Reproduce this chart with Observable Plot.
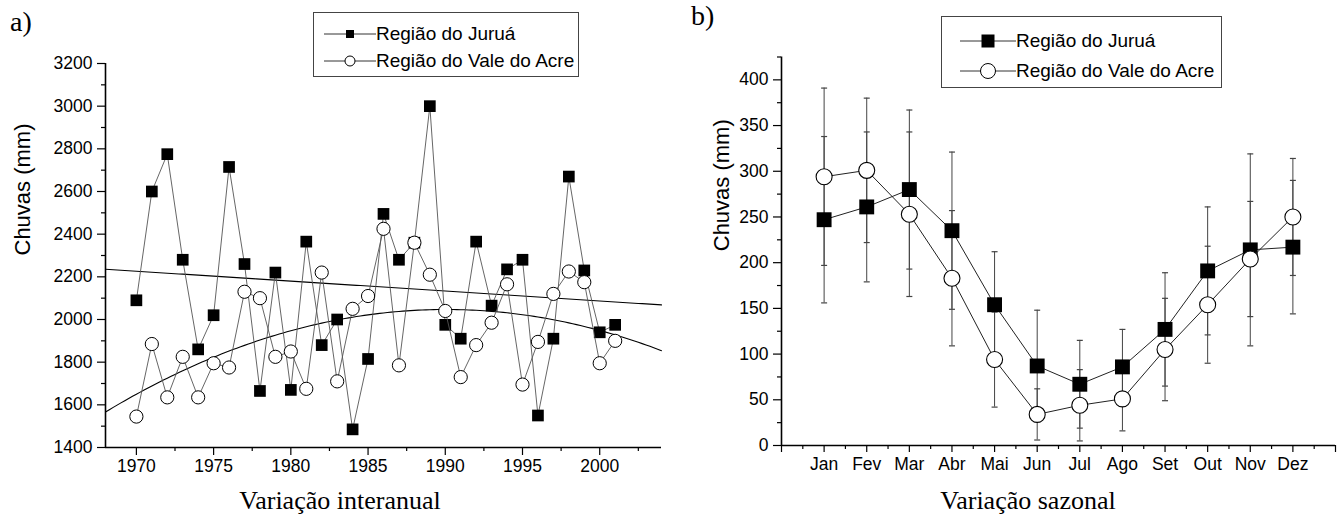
<!DOCTYPE html>
<html>
<head>
<meta charset="utf-8">
<script src="https://cdn.jsdelivr.net/npm/d3@7"></script>
<script src="https://cdn.jsdelivr.net/npm/@observablehq/plot@0.6"></script>
<style>
  html, body { margin: 0; padding: 0; background: #fff; }
  #wrap { position: relative; width: 1339px; height: 530px; overflow: hidden; font-family: "Liberation Sans", Arial, sans-serif; }
  .panel { position: absolute; top: 0; }
  .plabel { position: absolute; font-family: "Liberation Serif", "Times New Roman", serif; font-size: 28px; color: #000; }
  .xtitle { position: absolute; font-family: "Liberation Serif", "Times New Roman", serif; font-size: 26px; color: #000; text-align: center; white-space: nowrap; }
  .legend { position: absolute; border: 1px solid #444; background: #fff; box-sizing: border-box; }
  .legend .row { position: absolute; left: 0; display: flex; align-items: center; font-size: 19px; color: #000; white-space: nowrap; }
  .legend svg { display: block; }
</style>
</head>
<body>
<div id="wrap">
  <div id="pa" class="panel" style="left:0px"></div>
  <div id="pb" class="panel" style="left:670px"></div>
  <div class="plabel" style="left:10px; top:6px;">a)</div>
  <div class="plabel" style="left:691px; top:0px;">b)</div>
  <div class="xtitle" style="left:190px; width:300px; top:486px;">Variação interanual</div>
  <div class="xtitle" style="left:878px; width:300px; top:486px;">Variação sazonal</div>
  <div id="lega" class="legend" style="left:313px; top:12px; width:266px; height:65px;"></div>
  <div id="legb" class="legend" style="left:941px; top:16px; width:281px; height:72px;"></div>
</div>
<script>
// ---------- Data: panel a (annual totals, mm) ----------
const years = [1970,1971,1972,1973,1974,1975,1976,1977,1978,1979,1980,1981,1982,1983,1984,1985,
               1986,1987,1988,1989,1990,1991,1992,1993,1994,1995,1996,1997,1998,1999,2000,2001];
const juruaAnnual = [2090,2600,2775,2280,1860,2020,2715,2260,1665,2220,1670,2365,1880,2000,1485,1815,
                     2495,2280,2360,3000,1975,1910,2365,2065,2235,2280,1550,1910,2670,2230,1940,1975];
const acreAnnual  = [1545,1885,1635,1825,1635,1795,1775,2130,2100,1825,1850,1675,2220,1710,2050,2110,
                     2425,1785,2360,2210,2040,1730,1880,1985,2165,1695,1895,2120,2225,2175,1795,1900];
const yTicksA = [1400,1600,1800,2000,2200,2400,2600,2800,3000,3200];
const xTicksA = [1970,1975,1980,1985,1990,1995,2000];

// ---------- Data: panel b (monthly means ± sd, mm) ----------
const months = ["Jan","Fev","Mar","Abr","Mai","Jun","Jul","Ago","Set","Out","Nov","Dez"];
const juruaMonthly = [247,261,280,235,154,87,67,86,127,191,214,217];
const juruaSd      = [91,82,87,86,58,61,48,41,62,70,105,73];
const acreMonthly  = [294,301,253,183,94,34,44,51,105,154,204,250];
const acreSd       = [97,79,90,74,52,28,39,35,56,64,63,64];
const yTicksB = [0,50,100,150,200,250,300,350,400];

const LINE_A = "#555";
const FONT = "'Liberation Sans', Arial, sans-serif";
const noLabel = () => "";

// ---------- least-squares polynomial fit (from the data) ----------
function polyfit(xs, ys, deg) {
  const x0 = d3.mean(xs);
  const n = deg + 1;
  const A = Array.from({length: n}, () => new Array(n).fill(0));
  const b = new Array(n).fill(0);
  xs.forEach((x, i) => {
    const t = x - x0;
    for (let r = 0; r < n; r++) {
      b[r] += ys[i] * Math.pow(t, r);
      for (let c = 0; c < n; c++) A[r][c] += Math.pow(t, r + c);
    }
  });
  for (let i = 0; i < n; i++) {
    let p = i;
    for (let k = i + 1; k < n; k++) if (Math.abs(A[k][i]) > Math.abs(A[p][i])) p = k;
    [A[i], A[p]] = [A[p], A[i]]; [b[i], b[p]] = [b[p], b[i]];
    for (let k = i + 1; k < n; k++) {
      const f = A[k][i] / A[i][i];
      for (let c = i; c < n; c++) A[k][c] -= f * A[i][c];
      b[k] -= f * b[i];
    }
  }
  const coef = new Array(n).fill(0);
  for (let i = n - 1; i >= 0; i--) {
    let s = b[i];
    for (let c = i + 1; c < n; c++) s -= A[i][c] * coef[c];
    coef[i] = s / A[i][i];
  }
  return x => coef.reduce((s, c, k) => s + c * Math.pow(x - x0, k), 0);
}

const xDomA = [1968, 2004];
const fitJ = polyfit(years, juruaAnnual, 1);
const fitA = polyfit(years, acreAnnual, 2);
const fitXs = d3.range(xDomA[0], xDomA[1] + 0.001, 0.25);
const trendJ = fitXs.map(x => ({x, y: fitJ(x)}));
const trendA = fitXs.map(x => ({x, y: fitA(x)}));

const annual = years.map((y, i) => ({year: y, j: juruaAnnual[i], a: acreAnnual[i]}));

// ---------- Panel a ----------
const plotA = Plot.plot({
  width: 670, height: 530,
  marginLeft: 105, marginRight: 9, marginTop: 63, marginBottom: 83,
  style: {fontFamily: FONT, fontSize: "17.5px", color: "#000", background: "transparent"},
  x: {domain: xDomA},
  y: {domain: [1400, 3200]},
  marks: [
    Plot.axisY({ticks: d3.range(1500, 3200, 200), tickSize: 4, tickFormat: noLabel, label: null, strokeWidth: 1.2}),
    Plot.axisY({ticks: yTicksA, tickSize: 8, tickPadding: 5, label: null, strokeWidth: 1.2, tickFormat: d => String(d)}),
    Plot.axisX({ticks: [1972.5,1977.5,1982.5,1987.5,1992.5,1997.5,2002.5], tickSize: 4, tickFormat: noLabel, label: null, strokeWidth: 1.2}),
    Plot.axisX({ticks: xTicksA, tickSize: 8, tickPadding: 4, label: null, strokeWidth: 1.2, tickFormat: d => String(d)}),
    Plot.ruleX([xDomA[0]], {stroke: "#000", strokeWidth: 1.6}),
    Plot.ruleY([1400], {stroke: "#000", strokeWidth: 1.6}),
    Plot.text(["Chuvas (mm)"], {frameAnchor: "left", rotate: -90, dx: -83, fontSize: 22, fill: "#000"}),
    Plot.line(trendJ, {x: "x", y: "y", stroke: "#000", strokeWidth: 1.1}),
    Plot.line(trendA, {x: "x", y: "y", stroke: "#000", strokeWidth: 1.1}),
    Plot.line(annual, {x: "year", y: "j", stroke: LINE_A, strokeWidth: 0.9}),
    Plot.dot(annual, {x: "year", y: "j", symbol: "square", r: 6.6, fill: "#000", stroke: "none"}),
    Plot.line(annual, {x: "year", y: "a", stroke: LINE_A, strokeWidth: 0.9}),
    Plot.dot(annual, {x: "year", y: "a", symbol: "circle", r: 6.6, fill: "#fff", stroke: "#000", strokeWidth: 1})
  ]
});
document.getElementById("pa").appendChild(plotA);

// ---------- Panel b ----------
const monthly = months.map((m, i) => ({
  m: i + 1, name: m,
  j: juruaMonthly[i], js: juruaSd[i],
  a: acreMonthly[i], as: acreSd[i]
}));
const capSymbol = {
  draw(context, size) {
    const w = Math.sqrt(size / Math.PI);
    context.moveTo(-w, 0);
    context.lineTo(w, 0);
  }
};
const EB = "#444";
const plotB = Plot.plot({
  width: 669, height: 530,
  marginLeft: 111, marginRight: 4, marginTop: 56.5, marginBottom: 85,
  style: {fontFamily: FONT, fontSize: "17.5px", color: "#000", background: "transparent"},
  x: {domain: [0, 13]},
  y: {domain: [0, 425]},
  marks: [
    Plot.axisY({ticks: d3.range(25, 426, 50), tickSize: 4, tickFormat: noLabel, label: null, strokeWidth: 1.2}),
    Plot.axisY({ticks: yTicksB, tickSize: 8, tickPadding: 5, label: null, strokeWidth: 1.2, tickFormat: d => String(d)}),
    Plot.axisX({ticks: d3.range(0.5, 13, 1), tickSize: 4, tickFormat: noLabel, label: null, strokeWidth: 1.2}),
    Plot.axisX({ticks: [0, 13], tickSize: 7, tickFormat: noLabel, label: null, strokeWidth: 1.2}),
    Plot.axisX({ticks: d3.range(1, 13), tickSize: 7, tickPadding: 5, label: null, strokeWidth: 1.2, tickFormat: d => months[d - 1]}),
    Plot.ruleX([0], {stroke: "#000", strokeWidth: 1.6}),
    Plot.ruleY([0], {stroke: "#000", strokeWidth: 1.6}),
    Plot.text(["Chuvas (mm)"], {frameAnchor: "left", rotate: -90, dx: -60, fontSize: 22, fill: "#000"}),
    // error bars
    Plot.ruleX(monthly, {x: "m", y1: d => d.j - d.js, y2: d => d.j + d.js, stroke: EB, strokeWidth: 1}),
    Plot.ruleX(monthly, {x: "m", y1: d => d.a - d.as, y2: d => d.a + d.as, stroke: EB, strokeWidth: 1}),
    Plot.dot(monthly, {x: "m", y: d => d.j - d.js, symbol: capSymbol, r: 3, stroke: EB, strokeWidth: 1.2, fill: "none"}),
    Plot.dot(monthly, {x: "m", y: d => d.j + d.js, symbol: capSymbol, r: 3, stroke: EB, strokeWidth: 1.2, fill: "none"}),
    Plot.dot(monthly, {x: "m", y: d => d.a - d.as, symbol: capSymbol, r: 3, stroke: EB, strokeWidth: 1.2, fill: "none"}),
    Plot.dot(monthly, {x: "m", y: d => d.a + d.as, symbol: capSymbol, r: 3, stroke: EB, strokeWidth: 1.2, fill: "none"}),
    // series
    Plot.line(monthly, {x: "m", y: "j", stroke: "#222", strokeWidth: 1}),
    Plot.dot(monthly, {x: "m", y: "j", symbol: "square", r: 8.4, fill: "#000", stroke: "none"}),
    Plot.line(monthly, {x: "m", y: "a", stroke: "#222", strokeWidth: 1}),
    Plot.dot(monthly, {x: "m", y: "a", symbol: "circle", r: 8, fill: "#fff", stroke: "#000", strokeWidth: 1.1})
  ]
});
document.getElementById("pb").appendChild(plotB);

// ---------- Legends ----------
function legendRow(sym, size, top, lineW, label) {
  const row = document.createElement("div");
  row.className = "row";
  row.style.top = top + "px";
  const svg = d3.create("svg").attr("width", lineW).attr("height", 22);
  svg.append("line").attr("x1", 0).attr("x2", lineW).attr("y1", 11).attr("y2", 11)
     .attr("stroke", "#333").attr("stroke-width", 1);
  if (sym === "square") {
    svg.append("rect").attr("x", lineW / 2 - size / 2).attr("y", 11 - size / 2)
       .attr("width", size).attr("height", size).attr("fill", "#000");
  } else {
    svg.append("circle").attr("cx", lineW / 2).attr("cy", 11).attr("r", size / 2)
       .attr("fill", "#fff").attr("stroke", "#000").attr("stroke-width", 1);
  }
  row.appendChild(svg.node());
  const t = document.createElement("span");
  t.textContent = label;
  row.appendChild(t);
  return row;
}
const labels = ["Região do Juruá", "Região do Vale do Acre"];
const la = document.getElementById("lega");
const ra1 = legendRow("square", 8, 10, 52, labels[0]); ra1.style.left = "10px"; la.appendChild(ra1);
const ra2 = legendRow("circle", 10, 37, 52, labels[1]); ra2.style.left = "10px"; la.appendChild(ra2);
const lb = document.getElementById("legb");
const rb1 = legendRow("square", 13, 13, 56, labels[0]); rb1.style.left = "18px"; lb.appendChild(rb1);
const rb2 = legendRow("circle", 15, 43, 56, labels[1]); rb2.style.left = "18px"; lb.appendChild(rb2);
</script>
</body>
</html>
